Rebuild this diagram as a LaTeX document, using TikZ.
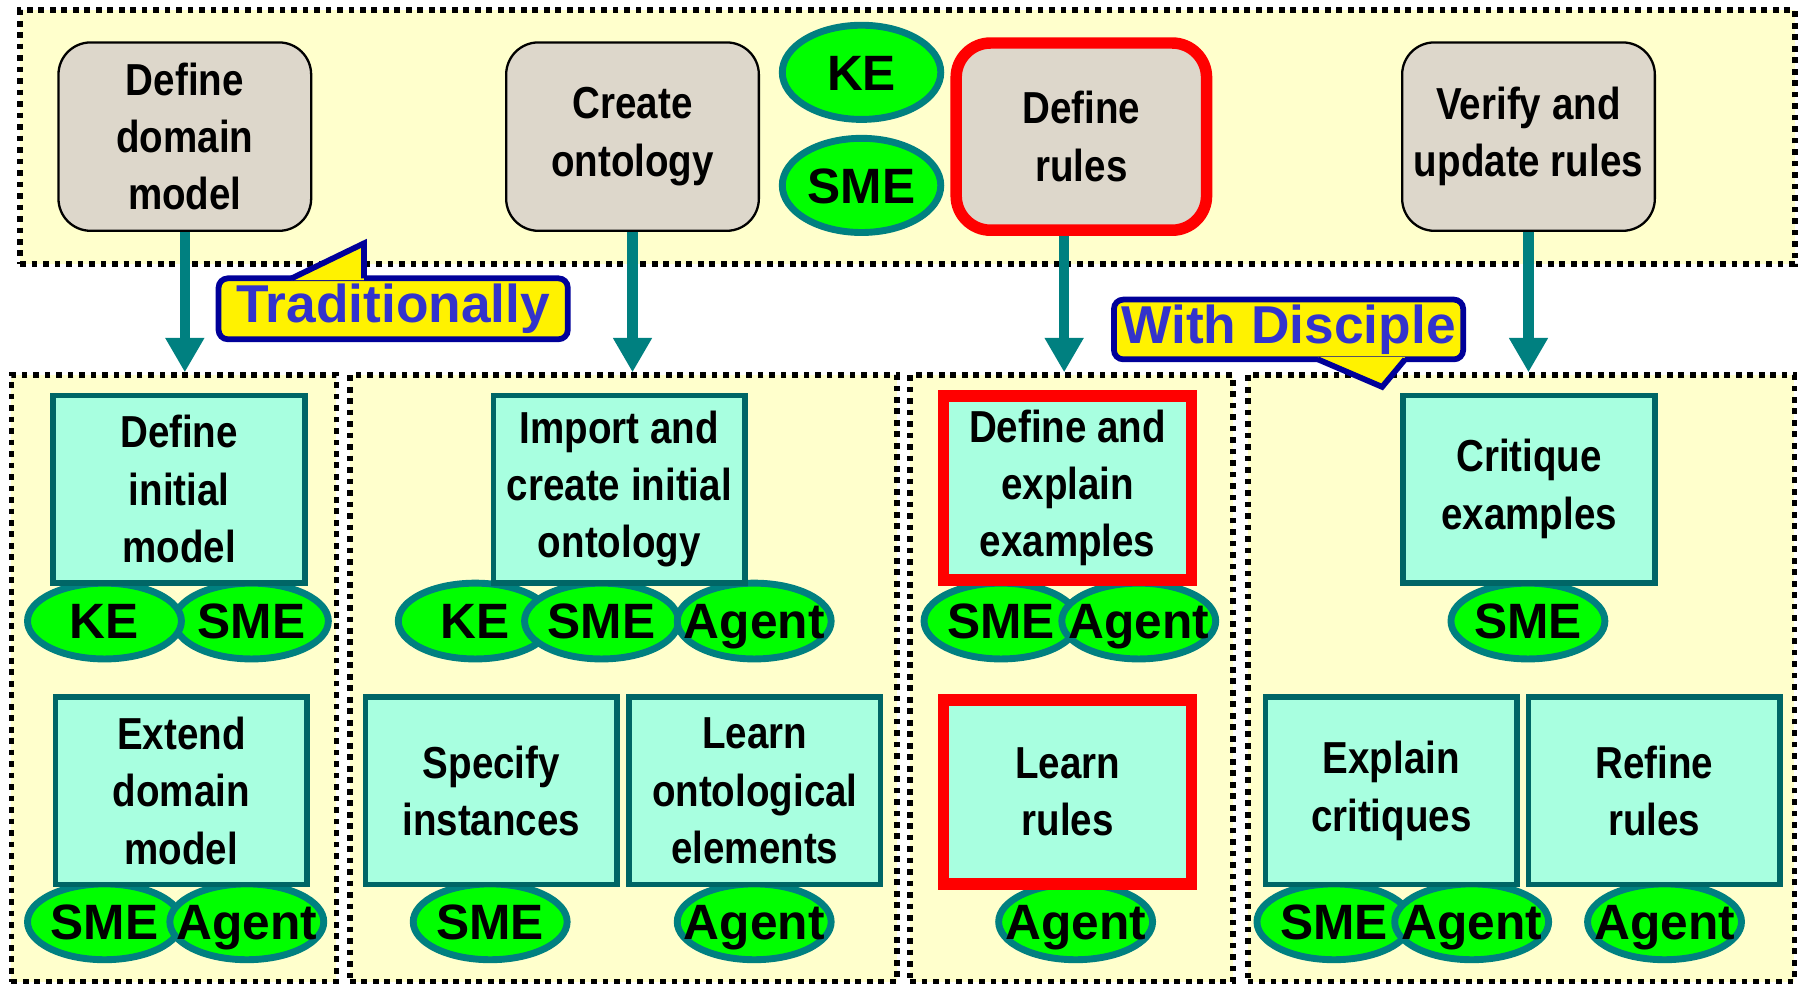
\documentclass[tikz,border=0pt]{standalone}
\usepackage{fontspec}
\setmainfont{Liberation Sans}
\newfontfamily\narrowfont[FakeStretch=0.86]{Liberation Sans}
\usetikzlibrary{arrows.meta,shapes.geometric}
\definecolor{paleYellow}{HTML}{FFFFCC}
\definecolor{stoneGrey}{HTML}{DDD7CB}
\definecolor{mintGreen}{HTML}{A8FFE0}
\definecolor{darkTeal}{HTML}{006666}
\definecolor{tealLine}{HTML}{008080}
\definecolor{navyLine}{HTML}{000099}
\definecolor{tagBlue}{HTML}{3333CC}

\begin{document}
\begin{tikzpicture}[x=0.01cm, y=-0.01cm,
    panel/.style={fill=paleYellow, draw=black, line width=0.05cm, dash pattern=on 0.05cm off 0.05cm, inner sep=0pt},
    phase/.style={draw=black, line width=0.02cm, fill=stoneGrey, rounded corners=0.28cm, minimum width=2.2cm, minimum height=1.64cm, align=center, inner sep=0pt, font=\narrowfont\bfseries\fontsize{11.1}{14.2}\selectfont},
    task/.style={draw=darkTeal, line width=0.05cm, fill=mintGreen, minimum width=2.19cm, minimum height=1.63cm, align=center, inner sep=0pt, font=\narrowfont\bfseries\fontsize{11.1}{14.2}\selectfont},
    hot/.style={draw=red, line width=0.1cm},
    actor/.style={ellipse, draw=tealLine, fill=green, line width=0.06cm, minimum width=1.34cm, minimum height=0.66cm, inner xsep=-3mm, inner ysep=0pt, text height=8.8pt, text depth=0pt, font=\bfseries\fontsize{12.3}{14}\selectfont},
    flow/.style={draw=tealLine, line width=0.09cm, -{Triangle[width=0.32cm,length=0.3cm]}},
    tag/.style={draw=navyLine, fill=yellow, line width=0.05cm, rounded corners=0.08cm, text=tagBlue, minimum width=3.04cm, minimum height=0.53cm, inner sep=0pt, font=\bfseries\fontsize{13.2}{15}\selectfont},
    tagline/.style={draw=navyLine, line width=0.05cm, line join=miter},
  ]
  \useasboundingbox (0,0) rectangle (1568,857);

  % panels
  \node[panel, minimum width=15.45cm, minimum height=2.21cm] (top) at (790.5,119.5) {};
  \node[panel, minimum width=2.83cm, minimum height=5.28cm] (p1) at (151.5,591) {};
  \node[panel, minimum width=4.76cm, minimum height=5.28cm] (p2) at (543,591) {};
  \node[panel, minimum width=2.81cm, minimum height=5.28cm] (p3) at (933.5,591) {};
  \node[panel, minimum width=4.76cm, minimum height=5.28cm] (p4) at (1325,591) {};

  % top row
  \node[phase] (ddm) at (161,119) {Define\\domain\\model};
  \node[phase] (cont) at (551,119) {Create\\ontology};
  \node[phase, hot, minimum width=2.18cm, minimum height=1.63cm, rounded corners=0.3cm] (rules) at (942,119) {Define\\rules};
  \node[phase] (vur) at (1331.5,119) {Verify and\\update rules};
  \node[actor, minimum width=1.38cm, minimum height=0.82cm] (ke0) at (750.5,63) {KE};
  \node[actor, minimum width=1.38cm, minimum height=0.82cm] (sme0) at (750.5,161.5) {SME};

  % who does what
  \node[actor] (sme1) at (219,541) {SME};
  \node[actor] (ke1) at (91,541) {KE};
  \node[actor] (sme5) at (91,803) {SME};
  \node[actor] (ag5) at (215,803) {Agent};
  \node[actor] (ke2) at (414,541) {KE};
  \node[actor] (sme2) at (524,541) {SME};
  \node[actor] (ag2) at (657,541) {Agent};
  \node[actor] (sme6) at (427,803) {SME};
  \node[actor] (ag6) at (657,803) {Agent};
  \node[actor] (sme3) at (872,541) {SME};
  \node[actor] (ag3) at (992,541) {Agent};
  \node[actor] (ag7) at (937,803) {Agent};
  \node[actor] (sme4) at (1331,541) {SME};
  \node[actor] (sme8) at (1162,803) {SME};
  \node[actor] (ag8) at (1282,803) {Agent};
  \node[actor] (ag9) at (1450,803) {Agent};

  \node[task] (dim) at (156,426) {Define\\initial\\model};
  \node[task] (edm) at (158,689) {Extend\\domain\\model};
  \node[task] (icio) at (539.5,426) {Import and\\create initial\\ontology};
  \node[task] (si) at (428,689) {Specify\\instances};
  \node[task] (loe) at (657.5,689) {Learn\\ontological\\elements};
  \node[task, hot, minimum width=2.16cm, minimum height=1.6cm] (dee) at (930,425) {Define and\\explain\\examples};
  \node[task, hot, minimum width=2.16cm, minimum height=1.6cm] (lr) at (930,690) {Learn\\rules};
  \node[task] (ce) at (1332,426) {Critique\\examples};
  \node[task] (ec) at (1212,689) {Explain\\critiques};
  \node[task] (rr) at (1441,689) {Refine\\rules};

  \draw[flow] (ddm.south) -- (ddm.south |- p1.north);
  \draw[flow] (cont.south) -- (cont.south |- p2.north);
  \draw[flow] ([xshift=-0.15cm]rules.south) -- ([xshift=-0.15cm]rules.south |- p3.north);
  \draw[flow] (vur.south) -- (vur.south |- p4.north);

  % callouts
  \node[tag] (trad) at (342.5,269) {Traditionally};
  \coordinate (tradtip) at (317,212);
  \fill[yellow] (254,244) -- (tradtip) -- (317,244) -- cycle;
  \draw[tagline] (254,242.5) -- (tradtip) -- (317,242.5);

  \node[tag, minimum height=0.52cm] (disc) at (1122.5,287) {With Disciple};
  \coordinate (disctip) at (1204,337);
  \fill[yellow] (1148,311) -- (disctip) -- (1224,311) -- cycle;
  \draw[tagline] (1148,313) -- (disctip) -- (1224,313);
\end{tikzpicture}
\end{document}
